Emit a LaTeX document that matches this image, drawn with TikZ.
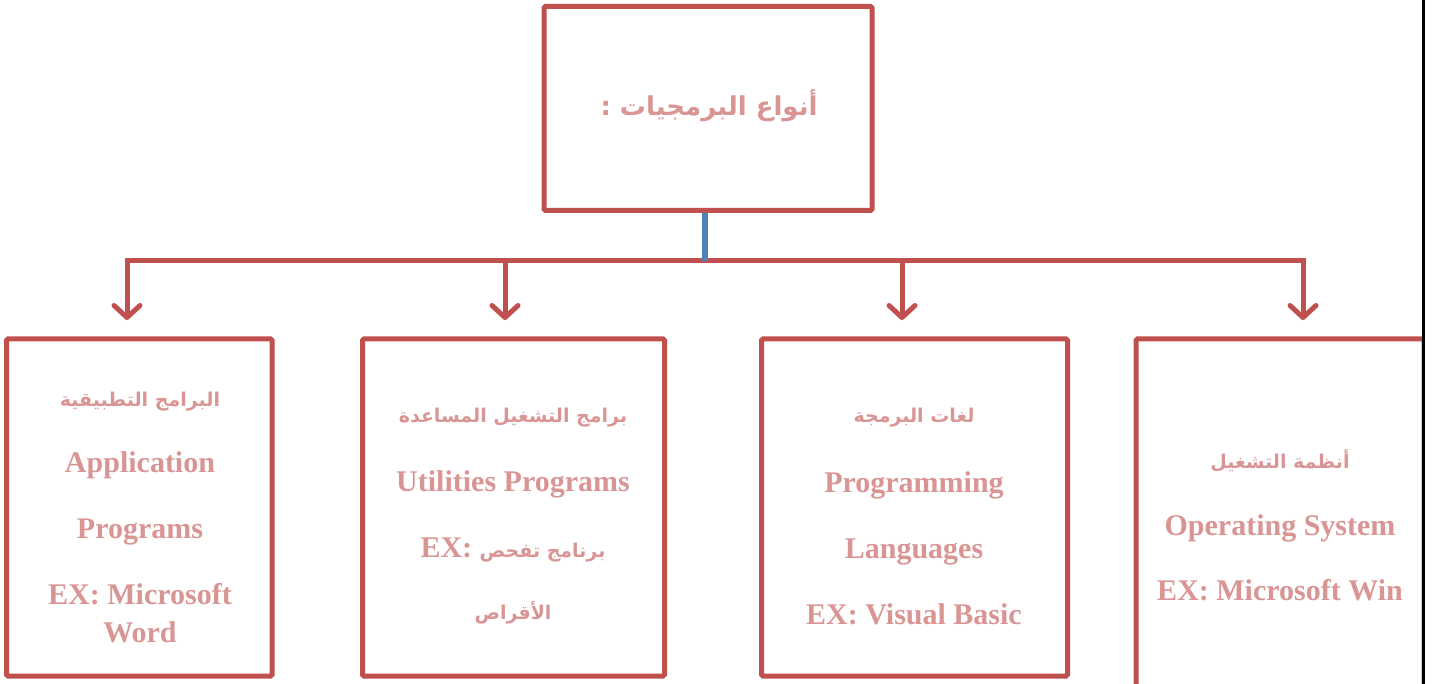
\documentclass[tikz,border=0pt]{standalone}
\usepackage{fontspec}
\usetikzlibrary{arrows.meta}
\setmainfont{Liberation Serif}
\newfontfamily\arabicfont[Script=Arabic]{DejaVu Sans}
\TeXXeTstate=1
\definecolor{boxred}{HTML}{C0504D}
\definecolor{textred}{HTML}{D99594}
\definecolor{stemblue}{HTML}{4F81BD}
\newcommand{\artext}[1]{{\arabicfont\fontsize{19}{38}\selectfont\beginR #1\endR}}
\newcommand{\artitle}[1]{{\arabicfont\fontsize{26}{32}\selectfont\beginR #1\endR}}

\begin{document}
\begin{tikzpicture}[x=1pt, y=-1pt,
    frame/.style = {draw=boxred, line width=5pt, rounded corners=1.5pt, inner sep=0pt, minimum height=337pt},
    txt/.style = {text=textred, font=\bfseries\fontsize{30}{38}\selectfont, align=center},
    link/.style = {draw=boxred, line width=5pt, line join=miter},
    barb/.tip = {Straight Barb[length=12pt, width=26pt, line cap=round, line join=round]}]
  \useasboundingbox (0,0) rectangle (1435,684);
  \clip (0,0) rectangle (1435,684);
  % top box
  \node [frame, minimum width=328pt, minimum height=204pt] (types) at (708,108.5) {};
  \node [txt] (typestxt) at (709,106) {\artitle{أنواع البرمجيات :}};
  % connectors
  \coordinate (stem) at (705,261);
  \coordinate (b1) at (127,261);
  \coordinate (b2) at (505,261);
  \coordinate (b3) at (902,261);
  \coordinate (b4) at (1303,261);
  \coordinate (t1) at (127,320);
  \coordinate (t2) at (505,320);
  \coordinate (t3) at (902,320);
  \coordinate (t4) at (1303,320);
  \draw [link, barb-barb] (t1) -- (b1) -- (b4) -- (t4);
  \draw [link, -barb] (b2) -- (t2);
  \draw [link, -barb] (b3) -- (t3);
  \draw [stemblue, line width=6pt] ([xshift=-3pt]types.south) -- (stem);
  % boxes
  \node [frame, minimum width=265.5pt] (apps) at (139.25,507.5) {};
  \node [txt] (appstxt) at (140,518) {\artext{البرامج التطبيقية}\\[28pt]
    Application\\[28pt]
    Programs\\[28pt]
    EX: Microsoft\\
    Word};
  \node [frame, minimum width=302pt] (utils) at (513.5,507.5) {};
  \node [txt] (utilstxt) at (513,516) {\artext{برامج التشغيل المساعدة}\\[31pt]
    Utilities Programs\\[28pt]
    EX: \artext{برنامج تفحص}\\[24pt]
    \artext{الأقراص}};
  \node [frame, minimum width=306pt] (langs) at (914.5,507.5) {};
  \node [txt] (langstxt) at (914,517) {\artext{لغات البرمجة}\\[32pt]
    Programming\\[28pt]
    Languages\\[28pt]
    EX: Visual Basic};
  \begin{scope}
    \clip (1100,300) rectangle (1421.8,700);
    \node [frame, minimum width=288pt, minimum height=362pt] (os) at (1280,520) {};
  \end{scope}
  \node [txt] (ostxt) at (1280,525) {\artext{أنظمة التشغيل}\\[29pt]
    Operating System\\[27pt]
    EX: Microsoft Win};
  % page edge
  \draw [line width=3pt] (1423,0) -- (1423,684);
\end{tikzpicture}
\end{document}
